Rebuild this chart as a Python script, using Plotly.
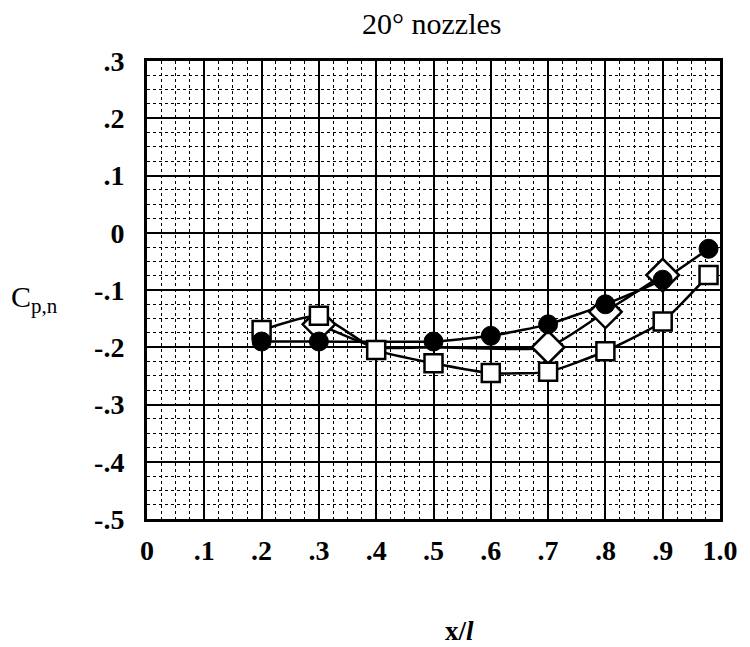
import plotly.graph_objects as go

FONT = "Liberation Serif, Times New Roman, serif"

# Data (x/l, Cp,n)
x_circle = [0.2, 0.3, 0.5, 0.6, 0.7, 0.8, 0.9, 0.98]
cp_circle = [-0.19, -0.19, -0.19, -0.18, -0.16, -0.125, -0.082, -0.028]

x_square = [0.2, 0.3, 0.4, 0.5, 0.6, 0.7, 0.8, 0.9, 0.98]
cp_square = [-0.17, -0.145, -0.205, -0.228, -0.245, -0.243, -0.207, -0.155, -0.074]

x_diamond = [0.3, 0.4, 0.5, 0.7, 0.8, 0.9]
cp_diamond = [-0.16, -0.2, -0.2, -0.2, -0.138, -0.074]
# diamonds at .4 and .5 are covered by the square / circle in the original
diamond_shown = [True, False, False, True, True, True]

x_ticks = [0, 0.1, 0.2, 0.3, 0.4, 0.5, 0.6, 0.7, 0.8, 0.9, 1.0]
x_labels = ["0", ".1", ".2", ".3", ".4", ".5", ".6", ".7", ".8", ".9", "1.0"]
y_ticks = [0.3, 0.2, 0.1, 0, -0.1, -0.2, -0.3, -0.4, -0.5]
y_labels = [".3", ".2", ".1", "0", "-.1", "-.2", "-.3", "-.4", "-.5"]

dx = [x for x, s in zip(x_diamond, diamond_shown) if s]
dy = [y for y, s in zip(cp_diamond, diamond_shown) if s]

lines = [(x_diamond, cp_diamond), (x_square, cp_square), (x_circle, cp_circle)]
markers = [
    (dx, dy, dict(symbol="diamond", size=25, color="white",
                  line=dict(color="black", width=2.5))),
    (x_square, cp_square, dict(symbol="square", size=18, color="white",
                               line=dict(color="black", width=2.5))),
    (x_circle, cp_circle, dict(symbol="circle", size=19, color="black",
                               line=dict(color="black", width=1))),
]

fig = go.Figure()

# lines first so every marker sits on top of every line
for xs, ys in lines:
    fig.add_trace(go.Scatter(
        x=xs, y=ys, mode="lines", showlegend=False, hoverinfo="skip",
        line=dict(color="black", width=2.5, shape="spline", smoothing=0.5),
    ))
for xs, ys, mk in markers:
    fig.add_trace(go.Scatter(x=xs, y=ys, mode="markers", showlegend=False, marker=mk))

grid_minor = dict(dtick=0.025, tick0=0, showgrid=True, gridcolor="black",
                  gridwidth=1, griddash="dot")
tick_font = dict(family=FONT, size=28, color="black", weight="bold")

fig.update_xaxes(
    range=[0, 1.0], tickvals=x_ticks, ticktext=x_labels,
    showgrid=True, gridcolor="black", gridwidth=2, zeroline=False,
    showline=True, linecolor="black", linewidth=3, mirror=True,
    ticks="", ticklabelstandoff=4, tickfont=tick_font, minor=grid_minor,
)
fig.update_yaxes(
    range=[-0.5, 0.3], tickvals=y_ticks, ticktext=y_labels,
    showgrid=True, gridcolor="black", gridwidth=2, zeroline=False,
    showline=True, linecolor="black", linewidth=3, mirror=True,
    ticks="", ticklabelstandoff=14, tickfont=tick_font, minor=grid_minor,
)

fig.add_annotation(text="20° nozzles", xref="paper", yref="paper",
                   x=0.496, y=1.0, yshift=38, yanchor="middle", showarrow=False,
                   font=dict(family=FONT, size=30, color="black"))
fig.add_annotation(text="C<sub>p,n</sub>", xref="paper", yref="paper",
                   x=-0.24, y=0.48, xanchor="left", yanchor="middle", showarrow=False,
                   font=dict(family=FONT, size=30, color="black"))
fig.add_annotation(text="<b>x/<i>l</i></b>", xref="paper", yref="paper",
                   x=0.546, y=0.0, yshift=-112, yanchor="middle", showarrow=False,
                   font=dict(family=FONT, size=27, color="black"))

# page body adds an 8px margin, so the figure is drawn 8px smaller and shifted back
fig.update_layout(
    width=742, height=639,
    paper_bgcolor="white", plot_bgcolor="white",
    margin=dict(l=139, r=28, t=53, b=128),
    font=dict(family=FONT, color="black"),
)

fig.write_html("out.html")
